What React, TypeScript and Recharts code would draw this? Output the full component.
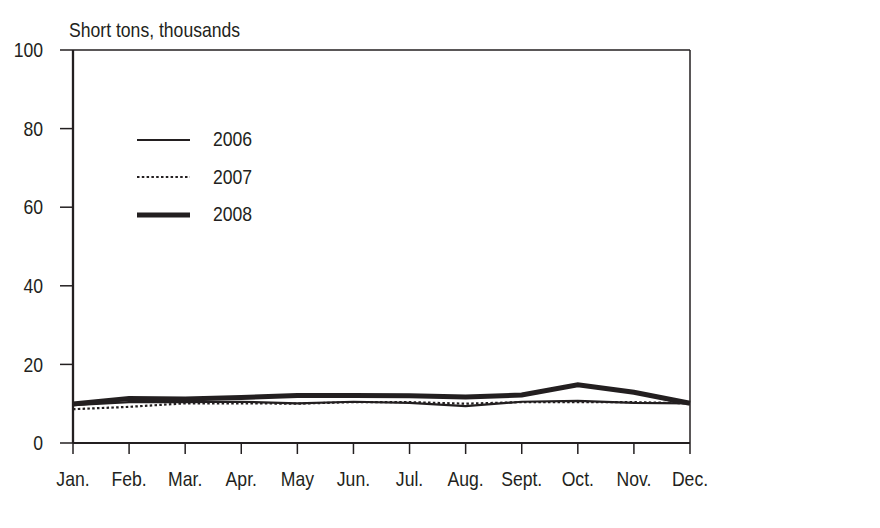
import { LineChart, Line, XAxis, YAxis, ReferenceLine } from "recharts";

const months = ["Jan.", "Feb.", "Mar.", "Apr.", "May", "Jun.", "Jul.", "Aug.", "Sept.", "Oct.", "Nov.", "Dec."];
const y2006 = [9.6, 10.4, 10.4, 10.5, 10.1, 10.5, 10.2, 9.4, 10.5, 10.7, 10.2, 10.1];
const y2007 = [8.6, 9.2, 10.1, 10.1, 10.0, 10.4, 10.4, 10.0, 10.4, 10.4, 10.4, 10.1];
const y2008 = [9.9, 11.3, 11.2, 11.6, 12.1, 12.1, 12.0, 11.7, 12.2, 14.8, 12.9, 10.1];
const yTicks = [0, 20, 40, 60, 80, 100];

const data = months.map((m, i) => ({ month: m, a: y2006[i], b: y2007[i], c: y2008[i] }));

const ink = "#231f20";
const font = "'Liberation Sans', Arial, sans-serif";
const fs = 20;
const squeeze = 0.88; // narrow the glyphs, the original uses a condensed face

const legendItems = [
  { label: "2006", width: 2.2, dash: undefined },
  { label: "2007", width: 2.2, dash: "2.5 2.3" },
  { label: "2008", width: 5, dash: undefined },
];

function XTick(props: any) {
  const { x, y, payload } = props;
  return (
    <g transform={`translate(${x},${y})`}>
      <text transform={`scale(${squeeze},1)`} textAnchor="middle" dy="0.71em" fontFamily={font} fontSize={fs} fill={ink}>
        {payload.value}
      </text>
    </g>
  );
}

function YTick(props: any) {
  const { x, y, payload } = props;
  return (
    <g transform={`translate(${x},${y})`}>
      <text transform={`scale(${squeeze},1)`} textAnchor="end" dy="0.355em" fontFamily={font} fontSize={fs} fill={ink}>
        {payload.value}
      </text>
    </g>
  );
}

function LegendBox() {
  return (
    <div style={{ position: "absolute", left: 137, top: 121, fontFamily: font, fontSize: fs, color: ink }}>
      {legendItems.map((it) => (
        <div key={it.label} style={{ display: "flex", alignItems: "center", height: 37.5 }}>
          <svg width={53} height={10} style={{ marginRight: 23 }}>
            <line x1={0} y1={5} x2={53} y2={5} stroke={ink} strokeWidth={it.width} strokeDasharray={it.dash} />
          </svg>
          <span style={{ display: "inline-block", transform: `scaleX(${squeeze})`, transformOrigin: "left center" }}>{it.label}</span>
        </div>
      ))}
    </div>
  );
}

export default function App() {
  return (
    <div style={{ position: "absolute", left: 0, top: 0, width: 880, height: 528, background: "#fff" }}>
      <svg style={{ position: "absolute", left: 0, top: 0 }} width={880} height={528}>
        <text transform={`translate(69,37) scale(${squeeze},1)`} fontFamily={font} fontSize={fs} fill={ink}>Short tons, thousands</text>
      </svg>
      <LineChart width={880} height={528} data={data} margin={{ top: 50, right: 190, bottom: 45, left: 13 }}>
        <XAxis
          dataKey="month"
          height={40}
          padding={{ left: 0, right: 0 }}
          axisLine={{ stroke: ink, strokeWidth: 2 }}
          tickLine={{ stroke: ink, strokeWidth: 1.5 }}
          tickSize={11}
          tickMargin={18}
          interval={0}
          tick={<XTick />}
        />
        <YAxis
          domain={[0, 100]}
          ticks={yTicks}
          width={60}
          axisLine={{ stroke: ink, strokeWidth: 2.3 }}
          tickLine={{ stroke: ink, strokeWidth: 1.5 }}
          tickSize={13}
          tickMargin={17}
          tick={<YTick />}
        />
        <ReferenceLine y={100} stroke={ink} strokeWidth={1.5} />
        <ReferenceLine x="Dec." stroke={ink} strokeWidth={1.5} />
        <Line dataKey="a" type="linear" stroke={ink} strokeWidth={2.2} dot={false} isAnimationActive={false} />
        <Line dataKey="b" type="linear" stroke={ink} strokeWidth={2.2} strokeDasharray="2.5 2.3" dot={false} isAnimationActive={false} />
        <Line dataKey="c" type="linear" stroke={ink} strokeWidth={5} dot={false} isAnimationActive={false} />
      </LineChart>
      <LegendBox />
    </div>
  );
}
